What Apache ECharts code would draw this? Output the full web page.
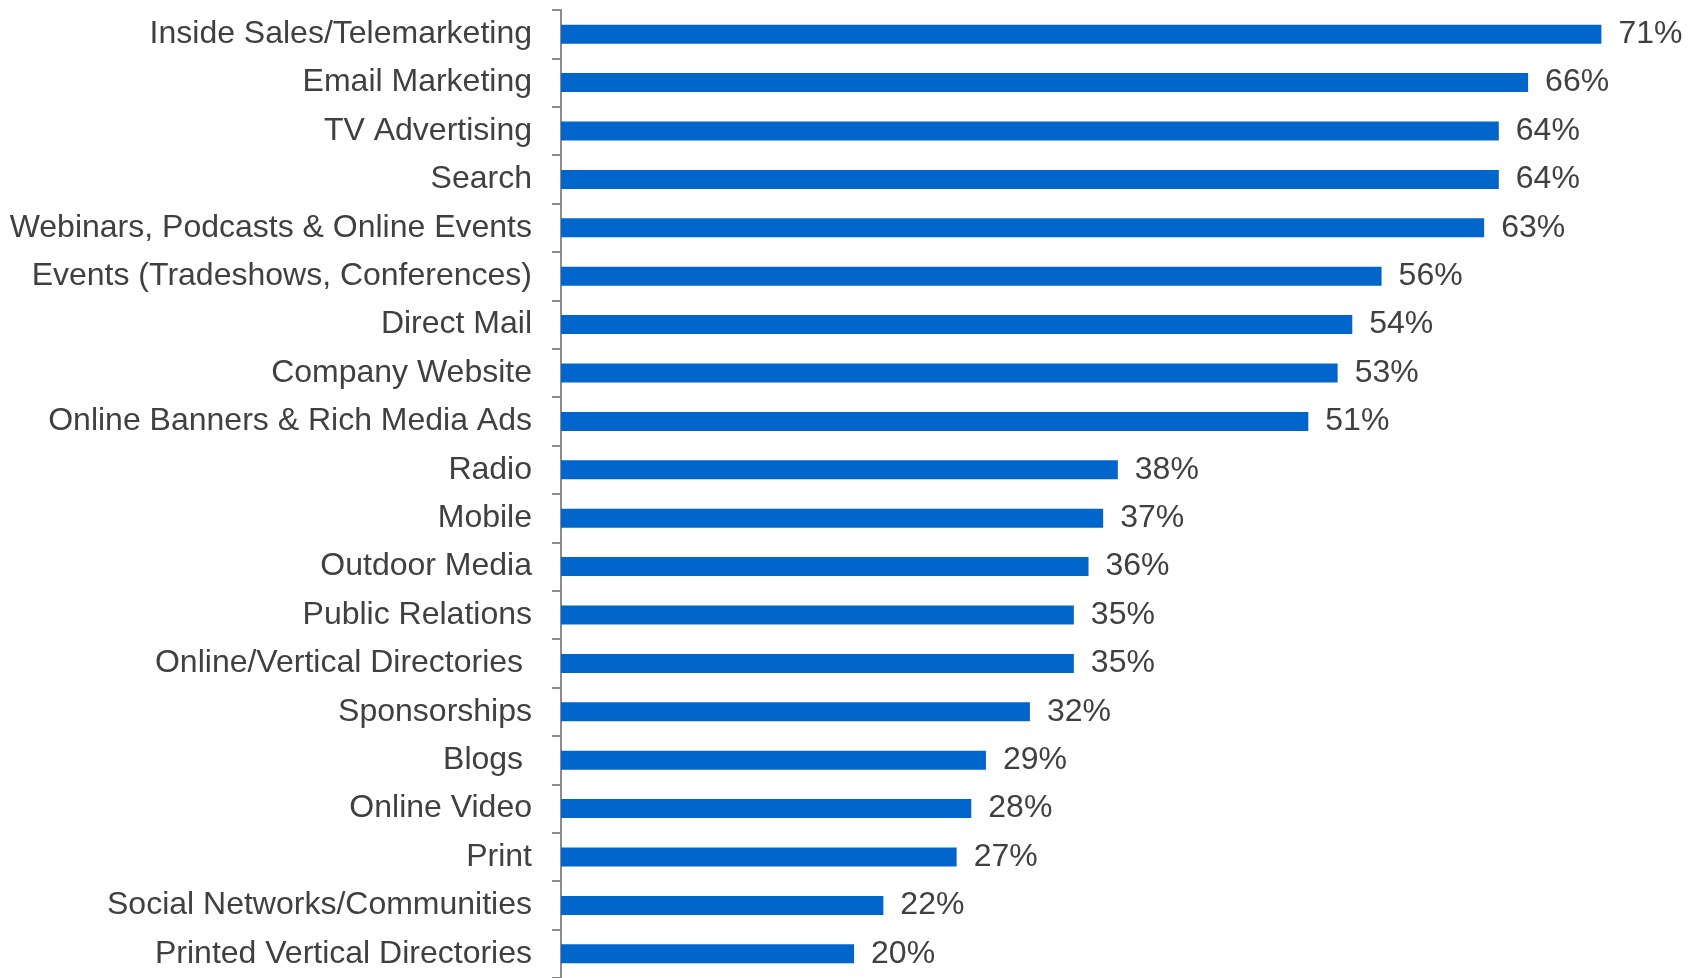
<!DOCTYPE html>
<html>
<head>
<meta charset="utf-8">
<script src="https://cdn.jsdelivr.net/npm/echarts@6/dist/echarts.min.js"></script>
<style>
  html, body { margin: 0; padding: 0; background: #fff; }
  #chart { width: 1694px; height: 978px; }
</style>
</head>
<body>
<div id="chart"></div>
<script>
// Marketing channels, listed top to bottom
const channels = [
  'Inside Sales/Telemarketing',
  'Email Marketing',
  'TV Advertising',
  'Search',
  'Webinars, Podcasts & Online Events',
  'Events (Tradeshows, Conferences)',
  'Direct Mail',
  'Company Website',
  'Online Banners & Rich Media Ads',
  'Radio',
  'Mobile',
  'Outdoor Media',
  'Public Relations',
  'Online/Vertical Directories ',
  'Sponsorships',
  'Blogs ',
  'Online Video',
  'Print',
  'Social Networks/Communities',
  'Printed Vertical Directories'
];

// Share of respondents (%)
const shares = [71, 66, 64, 64, 63, 56, 54, 53, 51, 38, 37, 36, 35, 35, 32, 29, 28, 27, 22, 20];

const chart = echarts.init(document.getElementById('chart'), null, { renderer: 'canvas' });

chart.setOption({
  animation: false,
  backgroundColor: '#ffffff',
  grid: {
    left: 561,
    top: 10,
    width: 1099,
    height: 970,
    containLabel: false
  },
  xAxis: {
    type: 'value',
    min: 0,
    max: 75,
    show: false
  },
  yAxis: {
    type: 'category',
    data: channels,
    inverse: true,
    axisLine: { show: true, lineStyle: { color: '#8c8c8c', width: 2 } },
    axisTick: { show: true, length: 9, lineStyle: { color: '#8c8c8c', width: 2 } },
    axisLabel: {
      margin: 29,
      fontFamily: 'Liberation Sans, Arial, sans-serif',
      fontSize: 32,
      color: '#404040',
      padding: [4, 0, 0, 0]
    },
    splitLine: { show: false }
  },
  series: [{
    type: 'bar',
    data: shares,
    barWidth: 19,
    itemStyle: { color: '#0066cc' },
    label: {
      show: true,
      position: 'right',
      distance: 17,
      formatter: '{c}%',
      fontFamily: 'Liberation Sans, Arial, sans-serif',
      fontSize: 32,
      color: '#404040',
      padding: [4, 0, 0, 0]
    }
  }]
});
</script>
</body>
</html>
